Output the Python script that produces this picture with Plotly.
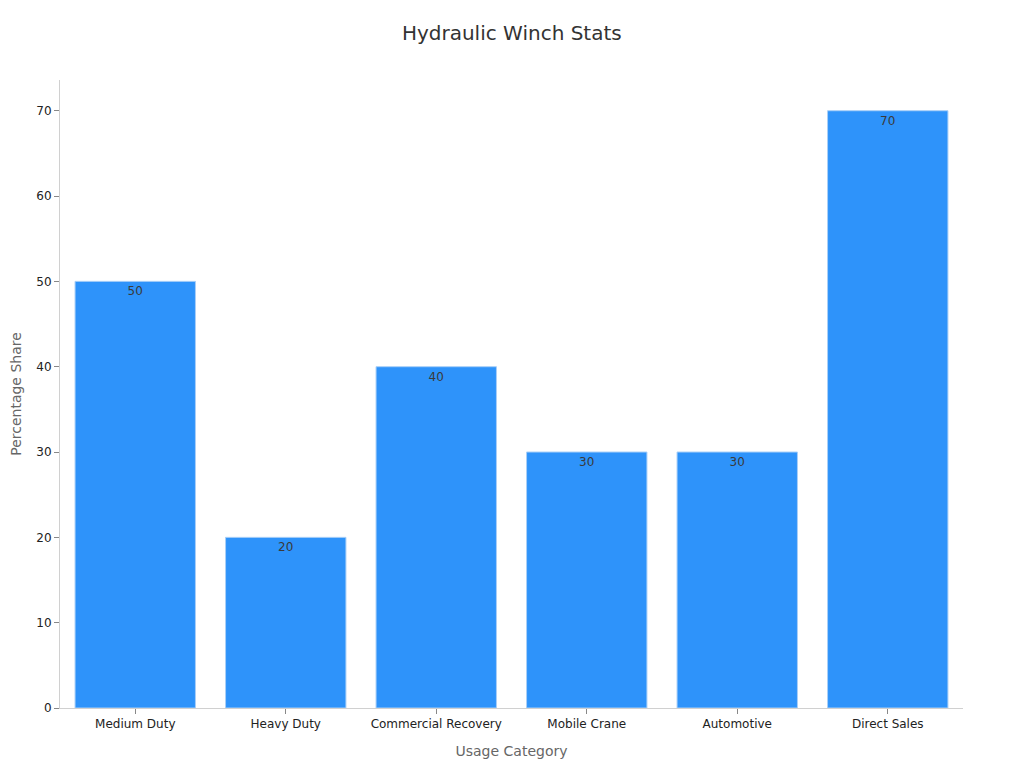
import plotly.graph_objects as go

categories = ["Medium Duty", "Heavy Duty", "Commercial Recovery", "Mobile Crane", "Automotive", "Direct Sales"]
values = [50, 20, 40, 30, 30, 70]

fig = go.Figure(go.Bar(
    x=categories, y=values,
    text=[str(v) for v in values],
    textposition="inside", insidetextanchor="end",
    textfont=dict(family="DejaVu Sans", size=12, color="#3a3a3a"),
    marker=dict(color="#2E93FA", line=dict(color="#a9cff7", width=1)),
    cliponaxis=False,
))

fig.update_layout(
    width=1024, height=768,
    paper_bgcolor="white", plot_bgcolor="white",
    margin=dict(l=52, r=69, t=72, b=68),
    title=dict(text="Hydraulic Winch Stats", x=0.492, xanchor="center", y=0.967, yanchor="middle",
               font=dict(family="DejaVu Sans", size=20, color="#333333")),
    font=dict(family="DejaVu Sans", size=12, color="#222222"),
    bargap=0.2,
    showlegend=False,
)
fig.update_xaxes(
    title=dict(text="Usage Category", font=dict(size=14, color="#666666"), standoff=15),
    showline=True, linecolor="#d0d0d0", linewidth=1,
    ticks="outside", ticklen=5, tickcolor="#888888",
    showgrid=False, tickfont=dict(size=12, color="#222222"),
)
fig.update_yaxes(
    title=dict(text="Percentage Share", font=dict(size=14, color="#666666"), standoff=20),
    automargin=False,
    range=[0, 73.6], dtick=10,
    showline=True, linecolor="#d0d0d0", linewidth=1,
    ticks="outside", ticklen=5, tickcolor="#888888",
    showgrid=False, zeroline=False, tickfont=dict(size=12, color="#222222"),
)

fig.write_html("out.html")
